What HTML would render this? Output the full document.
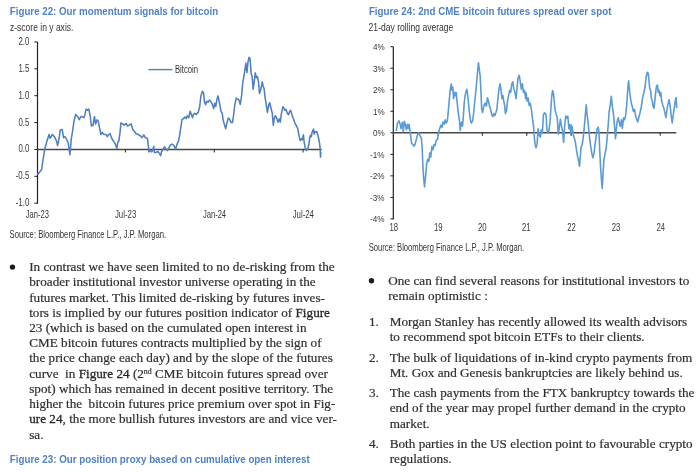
<!DOCTYPE html>
<html><head><meta charset="utf-8"><title>Bitcoin momentum and futures spread</title>
<style>
html,body{margin:0;padding:0;background:#fff;}
body{width:700px;height:472px;overflow:hidden;}
svg{display:block;filter:blur(0.4px);}
.fg{stroke-width:0.28px;fill:#262626;stroke:#262626;}
</style></head><body>
<svg width="700" height="472" viewBox="0 0 700 472" font-family="Liberation Sans, Arial, sans-serif" fill="#333">
<text x="9.8" y="14.7" font-size="10.2" font-weight="700" textLength="208.3" lengthAdjust="spacingAndGlyphs" fill="#4f81c4">Figure 22: Our momentum signals for bitcoin</text>
<text x="10" y="30.7" font-size="10.0" textLength="63.4" lengthAdjust="spacingAndGlyphs">z-score in y axis.</text>
<text x="368.9" y="14.8" font-size="10.2" font-weight="700" textLength="242.5" lengthAdjust="spacingAndGlyphs" fill="#4f81c4">Figure 24: 2nd CME bitcoin futures spread over spot</text>
<text x="368.6" y="30.9" font-size="10.2" textLength="84.8" lengthAdjust="spacingAndGlyphs">21-day rolling average</text>
<line x1="37.5" y1="41.94999999999999" x2="37.5" y2="203.7" stroke="#222" stroke-width="1.2"/>
<line x1="34.3" y1="41.95" x2="37.5" y2="41.95" stroke="#222" stroke-width="1"/>
<line x1="34.3" y1="68.82" x2="37.5" y2="68.82" stroke="#222" stroke-width="1"/>
<line x1="34.3" y1="95.70" x2="37.5" y2="95.70" stroke="#222" stroke-width="1"/>
<line x1="34.3" y1="122.57" x2="37.5" y2="122.57" stroke="#222" stroke-width="1"/>
<line x1="34.3" y1="149.45" x2="37.5" y2="149.45" stroke="#222" stroke-width="1"/>
<line x1="34.3" y1="176.32" x2="37.5" y2="176.32" stroke="#222" stroke-width="1"/>
<line x1="34.3" y1="203.20" x2="37.5" y2="203.20" stroke="#222" stroke-width="1"/>
<line x1="37.5" y1="149.54999999999998" x2="321.8" y2="149.54999999999998" stroke="#484848" stroke-width="1.6"/>
<line x1="125.4" y1="149.45" x2="125.4" y2="152.45" stroke="#222" stroke-width="1"/>
<line x1="214.3" y1="149.45" x2="214.3" y2="152.45" stroke="#222" stroke-width="1"/>
<line x1="303.1" y1="149.45" x2="303.1" y2="152.45" stroke="#222" stroke-width="1"/>
<text x="29.3" y="44.95" font-size="10.5" text-anchor="end" textLength="10.9" lengthAdjust="spacingAndGlyphs" fill="#383838">2.0</text>
<text x="29.3" y="71.82" font-size="10.5" text-anchor="end" textLength="10.9" lengthAdjust="spacingAndGlyphs" fill="#383838">1.5</text>
<text x="29.3" y="98.7" font-size="10.5" text-anchor="end" textLength="10.9" lengthAdjust="spacingAndGlyphs" fill="#383838">1.0</text>
<text x="29.3" y="125.57" font-size="10.5" text-anchor="end" textLength="10.9" lengthAdjust="spacingAndGlyphs" fill="#383838">0.5</text>
<text x="29.3" y="152.45" font-size="10.5" text-anchor="end" textLength="10.9" lengthAdjust="spacingAndGlyphs" fill="#383838">0.0</text>
<text x="29.3" y="179.32" font-size="10.5" text-anchor="end" textLength="13.6" lengthAdjust="spacingAndGlyphs" fill="#383838">-0.5</text>
<text x="29.3" y="206.2" font-size="10.5" text-anchor="end" textLength="13.6" lengthAdjust="spacingAndGlyphs" fill="#383838">-1.0</text>
<text x="37.4" y="218.2" font-size="10.8" text-anchor="middle" textLength="23.2" lengthAdjust="spacingAndGlyphs" fill="#383838">Jan-23</text>
<text x="125.6" y="218.2" font-size="10.8" text-anchor="middle" textLength="21.3" lengthAdjust="spacingAndGlyphs" fill="#383838">Jul-23</text>
<text x="214.5" y="218.2" font-size="10.8" text-anchor="middle" textLength="23.2" lengthAdjust="spacingAndGlyphs" fill="#383838">Jan-24</text>
<text x="303.3" y="218.2" font-size="10.8" text-anchor="middle" textLength="21.3" lengthAdjust="spacingAndGlyphs" fill="#383838">Jul-24</text>
<polyline points="37.4,174.8 41.7,169.5 42.7,162.0 44.8,149.0 47.0,140.9 49.0,134.5 50.1,138.3 52.3,134.5 54.4,136.6 56.5,140.9 57.6,145.5 59.0,138.8 60.3,129.9 62.2,129.6 63.5,137.7 65.0,136.6 66.5,139.2 68.2,143.0 69.9,154.7 71.3,138.8 72.4,132.4 73.9,121.8 75.6,114.4 77.7,116.5 79.2,119.7 80.9,116.5 84.0,117.6 85.0,114.4 86.1,109.1 87.5,110.1 88.8,109.1 90.3,116.5 91.4,126.0 93.1,125.0 94.5,116.5 95.6,123.9 97.1,119.7 98.1,120.7 99.4,127.1 100.9,134.5 102.4,132.4 104.1,134.5 106.2,134.5 107.3,136.6 108.7,134.5 110.0,133.5 111.5,137.7 112.6,139.8 114.0,141.9 115.3,144.0 116.8,148.3 117.9,141.9 118.9,140.9 120.0,132.4 121.0,122.9 122.5,123.9 124.2,125.0 126.3,123.5 127.4,126.0 129.5,125.0 131.2,123.9 132.7,129.2 135.9,133.5 138.0,134.5 140.1,135.6 142.1,137.7 143.8,134.9 145.3,137.7 147.4,138.3 148.5,147.2 148.9,151.9 150.6,150.4 151.7,151.9 152.7,150.4 153.8,146.2 154.4,152.5 155.9,152.5 158.0,151.5 159.5,153.6 160.6,155.7 161.6,151.5 162.9,149.4 164.4,146.8 165.9,148.9 167.6,150.4 169.3,147.2 170.7,144.7 172.2,144.1 173.9,145.5 175.6,148.9 177.1,144.1 178.6,140.9 179.6,135.6 180.7,128.2 182.0,119.7 183.5,118.6 184.9,117.1 186.2,118.6 187.1,115.9 188.8,117.6 190.2,111.2 191.5,115.0 192.6,117.6 193.4,114.4 194.7,113.3 196.2,114.4 196.7,113.9 198.2,112.4 199.7,106.5 200.9,95.9 202.4,91.2 203.5,92.7 204.5,102.2 205.6,104.8 206.7,101.2 208.1,102.2 209.4,100.1 210.9,101.8 212.4,104.4 213.7,108.6 214.7,103.3 215.8,106.5 216.8,100.1 217.9,95.9 218.7,99.1 220.0,105.4 221.1,111.8 222.1,112.8 223.2,120.3 224.7,125.6 225.7,128.7 226.8,123.4 228.3,118.1 229.6,119.2 231.0,122.4 232.5,122.4 233.6,115.0 234.9,104.4 236.3,98.0 237.8,99.1 239.1,100.1 240.2,104.4 241.6,95.9 242.7,83.2 243.8,76.8 244.8,70.4 245.9,63.0 246.9,72.6 248.0,62.0 249.1,57.3 250.1,59.0 251.1,73.3 252.1,76.5 253.2,89.2 254.2,81.8 255.3,72.9 256.4,77.6 257.4,76.5 258.5,81.8 259.5,93.5 260.6,90.3 261.7,85.0 262.3,81.8 263.1,86.0 264.0,88.2 265.3,98.8 266.5,106.2 267.4,112.5 268.7,105.1 269.7,102.6 270.8,107.2 272.3,113.6 273.3,125.3 274.4,117.8 275.4,115.7 276.9,118.9 278.0,122.1 279.3,118.9 280.3,122.1 281.4,113.6 282.9,106.8 283.9,108.3 285.0,110.4 286.0,109.4 287.5,113.6 288.6,114.7 289.6,111.5 290.7,110.4 292.0,114.7 293.5,118.9 294.9,123.1 296.2,125.3 297.7,128.4 299.2,136.9 300.2,140.5 301.5,138.6 302.3,139.9 303.4,134.8 304.2,142.4 305.3,148.2 306.3,150.5 307.6,148.8 308.4,146.9 309.1,143.1 309.7,138.0 310.4,135.4 311.4,136.7 311.9,132.9 312.9,130.4 313.5,129.1 314.2,134.2 314.8,131.6 315.4,132.3 316.7,131.6 317.7,134.8 318.6,138.0 319.5,143.1 320.2,149.4 320.5,157.1 320.9,152.0" fill="none" stroke="#4f7fc0" stroke-width="1.55" stroke-linejoin="round"/>
<line x1="148.4" y1="69.6" x2="172.5" y2="69.6" stroke="#4f7fc0" stroke-width="1.4"/>
<text x="175" y="73" font-size="10.5" textLength="23" lengthAdjust="spacingAndGlyphs">Bitcoin</text>
<text x="9.6" y="238.0" font-size="10.4" textLength="156.5" lengthAdjust="spacingAndGlyphs">Source: Bloomberg Finance L.P., J.P. Morgan.</text>
<line x1="393.3" y1="46.70000000000002" x2="393.3" y2="219.4" stroke="#222" stroke-width="1.2"/>
<line x1="390.4" y1="218.90" x2="393.3" y2="218.90" stroke="#222" stroke-width="1"/>
<line x1="390.4" y1="197.38" x2="393.3" y2="197.38" stroke="#222" stroke-width="1"/>
<line x1="390.4" y1="175.85" x2="393.3" y2="175.85" stroke="#222" stroke-width="1"/>
<line x1="390.4" y1="154.33" x2="393.3" y2="154.33" stroke="#222" stroke-width="1"/>
<line x1="390.4" y1="132.80" x2="393.3" y2="132.80" stroke="#222" stroke-width="1"/>
<line x1="390.4" y1="111.28" x2="393.3" y2="111.28" stroke="#222" stroke-width="1"/>
<line x1="390.4" y1="89.75" x2="393.3" y2="89.75" stroke="#222" stroke-width="1"/>
<line x1="390.4" y1="68.23" x2="393.3" y2="68.23" stroke="#222" stroke-width="1"/>
<line x1="390.4" y1="46.70" x2="393.3" y2="46.70" stroke="#222" stroke-width="1"/>
<line x1="393.3" y1="132.8" x2="676.3" y2="132.8" stroke="#484848" stroke-width="1.6"/>
<line x1="438.3" y1="132.8" x2="438.3" y2="135.8" stroke="#222" stroke-width="1"/>
<line x1="482.3" y1="132.8" x2="482.3" y2="135.8" stroke="#222" stroke-width="1"/>
<line x1="526.8" y1="132.8" x2="526.8" y2="135.8" stroke="#222" stroke-width="1"/>
<line x1="571.3" y1="132.8" x2="571.3" y2="135.8" stroke="#222" stroke-width="1"/>
<line x1="615.8" y1="132.8" x2="615.8" y2="135.8" stroke="#222" stroke-width="1"/>
<line x1="660.2" y1="132.8" x2="660.2" y2="135.8" stroke="#222" stroke-width="1"/>
<text x="384.6" y="222.4" font-size="9.9" text-anchor="end" textLength="14.5" lengthAdjust="spacingAndGlyphs" fill="#383838">-4%</text>
<text x="384.6" y="200.88" font-size="9.9" text-anchor="end" textLength="14.5" lengthAdjust="spacingAndGlyphs" fill="#383838">-3%</text>
<text x="384.6" y="179.35" font-size="9.9" text-anchor="end" textLength="14.5" lengthAdjust="spacingAndGlyphs" fill="#383838">-2%</text>
<text x="384.6" y="157.83" font-size="9.9" text-anchor="end" textLength="14.5" lengthAdjust="spacingAndGlyphs" fill="#383838">-1%</text>
<text x="384.6" y="136.3" font-size="9.9" text-anchor="end" textLength="11.7" lengthAdjust="spacingAndGlyphs" fill="#383838">0%</text>
<text x="384.6" y="114.78" font-size="9.9" text-anchor="end" textLength="11.7" lengthAdjust="spacingAndGlyphs" fill="#383838">1%</text>
<text x="384.6" y="93.25" font-size="9.9" text-anchor="end" textLength="11.7" lengthAdjust="spacingAndGlyphs" fill="#383838">2%</text>
<text x="384.6" y="71.73" font-size="9.9" text-anchor="end" textLength="11.7" lengthAdjust="spacingAndGlyphs" fill="#383838">3%</text>
<text x="384.6" y="50.2" font-size="9.9" text-anchor="end" textLength="11.7" lengthAdjust="spacingAndGlyphs" fill="#383838">4%</text>
<text x="393.8" y="230.6" font-size="10.3" text-anchor="middle" textLength="8.6" lengthAdjust="spacingAndGlyphs" fill="#383838">18</text>
<text x="438.3" y="230.6" font-size="10.3" text-anchor="middle" textLength="8.6" lengthAdjust="spacingAndGlyphs" fill="#383838">19</text>
<text x="482.2" y="230.6" font-size="10.3" text-anchor="middle" textLength="8.6" lengthAdjust="spacingAndGlyphs" fill="#383838">20</text>
<text x="526.3" y="230.6" font-size="10.3" text-anchor="middle" textLength="8.6" lengthAdjust="spacingAndGlyphs" fill="#383838">21</text>
<text x="571.5" y="230.6" font-size="10.3" text-anchor="middle" textLength="8.6" lengthAdjust="spacingAndGlyphs" fill="#383838">22</text>
<text x="616.1" y="230.6" font-size="10.3" text-anchor="middle" textLength="8.6" lengthAdjust="spacingAndGlyphs" fill="#383838">23</text>
<text x="660.7" y="230.6" font-size="10.3" text-anchor="middle" textLength="8.6" lengthAdjust="spacingAndGlyphs" fill="#383838">24</text>
<polyline points="396.2,131.0 397.4,123.3 398.9,120.8 400.2,124.4 401.0,128.6 402.3,122.2 403.3,131.8 404.4,121.2 405.3,124.4 406.3,129.7 407.4,124.4 408.2,128.6 409.1,124.4 410.1,131.8 410.8,137.1 411.6,143.4 412.9,144.5 413.9,146.2 415.0,144.5 416.1,140.3 417.1,136.0 418.6,132.8 419.7,135.0 421.4,138.1 422.2,148.7 422.8,163.6 423.5,176.3 424.5,186.9 425.6,176.3 426.7,163.6 427.7,159.3 428.8,161.4 429.8,153.0 430.7,157.2 431.9,146.6 433.0,149.8 434.1,144.5 435.1,145.5 436.2,140.3 437.7,139.2 438.2,133.7 439.7,128.4 440.9,125.2 442.0,127.3 443.0,122.0 444.1,124.2 445.2,119.9 446.2,123.1 447.3,121.0 448.1,113.6 449.2,100.8 450.3,89.2 451.3,83.9 452.0,90.3 452.8,87.1 453.6,98.7 454.5,92.4 455.3,95.6 456.2,92.4 457.0,100.8 457.9,109.3 458.7,115.7 459.6,122.0 460.2,130.5 460.8,125.2 461.7,122.0 462.5,126.3 463.4,115.7 464.2,103.0 465.1,95.6 465.9,92.4 466.8,89.2 467.6,94.5 468.5,103.0 469.3,111.4 470.4,119.9 471.4,123.1 472.5,121.0 473.6,113.6 474.6,103.0 475.7,92.4 476.7,81.8 477.6,71.2 478.4,62.7 479.3,69.1 480.1,75.4 481.0,92.4 481.7,109.3 482.5,112.5 483.8,106.1 485.1,103.0 486.4,106.1 487.4,97.7 488.5,100.8 489.5,106.1 490.6,109.3 491.7,114.6 492.7,116.7 493.8,113.6 494.8,115.7 495.9,112.5 496.9,109.3 498.0,97.7 499.1,88.1 500.1,83.9 501.2,91.3 502.0,98.7 502.9,95.6 503.7,100.8 504.6,105.1 505.4,113.6 506.5,110.4 507.5,100.8 508.6,95.6 509.7,90.3 510.7,92.4 511.8,83.9 512.8,81.8 513.9,89.2 515.0,92.4 516.0,98.7 517.1,87.1 518.1,77.5 519.2,75.4 520.3,81.8 521.3,89.2 522.4,83.9 523.4,92.4 524.5,90.3 525.6,98.7 526.1,92.7 527.1,101.2 528.2,98.0 529.2,105.4 530.3,103.3 531.4,109.7 532.4,118.1 533.5,125.6 534.1,135.1 535.0,143.6 536.0,147.8 537.1,143.6 538.1,128.7 539.2,135.1 540.3,137.2 541.3,129.8 542.4,133.0 543.4,115.0 544.5,112.8 545.6,113.9 546.2,116.0 546.8,128.7 547.9,133.0 548.9,130.8 550.0,122.4 550.8,109.7 551.7,96.9 552.5,90.6 553.4,92.7 554.2,101.2 555.1,109.7 556.1,113.9 557.2,117.1 558.3,134.0 559.3,127.7 560.4,119.2 561.4,125.6 562.5,130.8 563.6,142.5 564.6,126.6 565.7,116.0 566.7,118.1 567.8,116.0 568.9,128.7 569.9,124.5 571.0,135.1 571.1,125.0 572.1,127.1 573.2,134.5 574.2,137.7 575.3,141.9 576.4,149.3 577.4,155.7 578.5,159.9 579.5,166.3 580.2,157.8 581.0,147.2 582.1,145.1 583.1,138.7 584.2,128.1 585.3,115.4 586.3,104.8 586.9,113.3 587.8,119.7 588.6,128.1 589.7,138.7 590.8,147.2 591.8,153.6 592.9,157.8 593.9,153.6 595.0,145.1 596.1,136.6 597.1,129.2 598.2,127.1 599.0,132.4 599.7,149.3 600.5,166.3 601.4,179.0 602.2,188.5 603.1,172.6 603.9,159.9 605.0,153.6 606.0,149.3 607.1,138.7 608.1,126.0 609.2,111.2 610.3,104.8 611.3,96.4 612.4,106.9 613.4,113.3 614.5,126.0 615.5,138.7 616.1,130.5 617.1,122.0 618.2,117.8 619.2,122.0 620.3,126.3 621.4,119.9 622.4,128.4 623.5,117.8 624.5,119.9 625.6,115.7 626.7,105.1 627.7,90.3 628.6,80.7 629.4,89.2 630.3,96.6 631.3,103.0 632.4,107.2 633.4,111.4 634.5,109.3 635.6,115.7 636.6,118.9 637.7,122.0 638.7,117.8 639.8,113.6 640.8,109.3 641.9,103.0 643.0,95.6 644.0,92.4 645.1,86.0 646.1,77.5 647.2,72.2 648.3,73.3 648.9,79.7 649.7,88.1 650.6,90.3 651.4,98.7 652.3,100.8 653.1,106.1 654.0,108.3 654.8,100.8 655.7,92.4 656.5,86.0 657.4,85.0 658.2,92.4 659.1,90.3 659.9,95.6 660.8,92.4 661.6,100.8 662.7,105.0 663.8,108.1 664.8,112.4 665.9,117.7 666.9,110.3 668.0,103.9 669.1,99.7 670.1,106.0 671.2,115.6 672.2,123.0 673.3,114.5 674.4,107.1 675.4,99.7 676.1,97.5 676.7,108.1" fill="none" stroke="#5b9bd5" stroke-width="1.6" stroke-linejoin="round"/>
<text x="368.7" y="251.2" font-size="10.2" textLength="155.5" lengthAdjust="spacingAndGlyphs">Source: Bloomberg Finance L.P., J.P. Morgan.</text>
<circle cx="12.5" cy="267.1" r="2.7" fill="#1c1c24"/>
<g transform="translate(29.2,271.1) scale(0.9818,1)"><text x="0" y="0" font-size="13.45" font-family="Liberation Serif" fill="#2e2e2e" stroke="#2e2e2e" stroke-width="0.2" xml:space="preserve">In contrast we have seen limited to no de-risking from the</text></g>
<g transform="translate(29.2,286.33) scale(0.9818,1)"><text x="0" y="0" font-size="13.45" font-family="Liberation Serif" fill="#2e2e2e" stroke="#2e2e2e" stroke-width="0.2" xml:space="preserve">broader institutional investor universe operating in the</text></g>
<g transform="translate(29.2,301.56) scale(0.9818,1)"><text x="0" y="0" font-size="13.45" font-family="Liberation Serif" fill="#2e2e2e" stroke="#2e2e2e" stroke-width="0.2" xml:space="preserve">futures market. This limited de-risking by futures inves-</text></g>
<g transform="translate(29.2,316.79) scale(0.9818,1)"><text x="0" y="0" font-size="13.45" font-family="Liberation Serif" fill="#2e2e2e" stroke="#2e2e2e" stroke-width="0.2" xml:space="preserve">tors is implied by our futures position indicator of <tspan class="fg">Figure</tspan></text></g>
<g transform="translate(29.2,332.02) scale(0.9818,1)"><text x="0" y="0" font-size="13.45" font-family="Liberation Serif" fill="#2e2e2e" stroke="#2e2e2e" stroke-width="0.2" xml:space="preserve">23 (which is based on the cumulated open interest in</text></g>
<g transform="translate(29.2,347.25) scale(0.9818,1)"><text x="0" y="0" font-size="13.45" font-family="Liberation Serif" fill="#2e2e2e" stroke="#2e2e2e" stroke-width="0.2" xml:space="preserve">CME bitcoin futures contracts multiplied by the sign of</text></g>
<g transform="translate(29.2,362.48) scale(0.9818,1)"><text x="0" y="0" font-size="13.45" font-family="Liberation Serif" fill="#2e2e2e" stroke="#2e2e2e" stroke-width="0.2" xml:space="preserve">the price change each day) and by the slope of the futures</text></g>
<g transform="translate(29.2,377.71) scale(0.9818,1)"><text x="0" y="0" font-size="13.45" font-family="Liberation Serif" fill="#2e2e2e" stroke="#2e2e2e" stroke-width="0.2" xml:space="preserve">curve  in <tspan class="fg">Figure 24</tspan> (2<tspan font-size="8" dy="-3.6">nd</tspan><tspan dy="3.6"> CME bitcoin futures spread over</tspan></text></g>
<g transform="translate(29.2,392.94) scale(0.9818,1)"><text x="0" y="0" font-size="13.45" font-family="Liberation Serif" fill="#2e2e2e" stroke="#2e2e2e" stroke-width="0.2" xml:space="preserve">spot) which has remained in decent positive territory. The</text></g>
<g transform="translate(29.2,408.17) scale(0.9764,1)"><text x="0" y="0" font-size="13.45" font-family="Liberation Serif" fill="#2e2e2e" stroke="#2e2e2e" stroke-width="0.2" xml:space="preserve">higher the  bitcoin futures price premium over spot in Fig-</text></g>
<g transform="translate(29.2,423.4) scale(0.9818,1)"><text x="0" y="0" font-size="13.45" font-family="Liberation Serif" fill="#2e2e2e" stroke="#2e2e2e" stroke-width="0.2" xml:space="preserve"><tspan class="fg">ure 24</tspan>, the more bullish futures investors are and vice ver-</text></g>
<g transform="translate(29.2,438.63) scale(0.9818,1)"><text x="0" y="0" font-size="13.45" font-family="Liberation Serif" fill="#2e2e2e" stroke="#2e2e2e" stroke-width="0.2" xml:space="preserve">sa.</text></g>
<text x="9.8" y="463.2" font-size="10.2" font-weight="700" textLength="299.9" lengthAdjust="spacingAndGlyphs" fill="#4f81c4">Figure 23: Our position proxy based on cumulative open interest</text>
<circle cx="371.5" cy="280.7" r="2.7" fill="#1c1c24"/>
<g transform="translate(388.2,284.7) scale(0.9818,1)"><text x="0" y="0" font-size="13.45" font-family="Liberation Serif" fill="#2e2e2e" stroke="#2e2e2e" stroke-width="0.2" xml:space="preserve">One can find several reasons for institutional investors to</text></g>
<g transform="translate(388.2,300.0) scale(0.9818,1)"><text x="0" y="0" font-size="13.45" font-family="Liberation Serif" fill="#2e2e2e" stroke="#2e2e2e" stroke-width="0.2" xml:space="preserve">remain optimistic :</text></g>
<g transform="translate(368.9,325.5) scale(0.9818,1)"><text x="0" y="0" font-size="13.45" font-family="Liberation Serif" fill="#2e2e2e" stroke="#2e2e2e" stroke-width="0.2" xml:space="preserve">1.</text></g>
<g transform="translate(389.7,325.5) scale(0.9818,1)"><text x="0" y="0" font-size="13.45" font-family="Liberation Serif" fill="#2e2e2e" stroke="#2e2e2e" stroke-width="0.2" xml:space="preserve">Morgan Stanley has recently allowed its wealth advisors</text></g>
<g transform="translate(389.7,340.8) scale(0.9818,1)"><text x="0" y="0" font-size="13.45" font-family="Liberation Serif" fill="#2e2e2e" stroke="#2e2e2e" stroke-width="0.2" xml:space="preserve">to recommend spot bitcoin ETFs to their clients.</text></g>
<g transform="translate(368.9,361.7) scale(0.9818,1)"><text x="0" y="0" font-size="13.45" font-family="Liberation Serif" fill="#2e2e2e" stroke="#2e2e2e" stroke-width="0.2" xml:space="preserve">2.</text></g>
<g transform="translate(389.7,361.7) scale(0.9818,1)"><text x="0" y="0" font-size="13.45" font-family="Liberation Serif" fill="#2e2e2e" stroke="#2e2e2e" stroke-width="0.2" xml:space="preserve">The bulk of liquidations of in-kind crypto payments from</text></g>
<g transform="translate(389.7,376.9) scale(0.9818,1)"><text x="0" y="0" font-size="13.45" font-family="Liberation Serif" fill="#2e2e2e" stroke="#2e2e2e" stroke-width="0.2" xml:space="preserve">Mt. Gox and Genesis bankruptcies are likely behind us.</text></g>
<g transform="translate(368.9,397.2) scale(0.9818,1)"><text x="0" y="0" font-size="13.45" font-family="Liberation Serif" fill="#2e2e2e" stroke="#2e2e2e" stroke-width="0.2" xml:space="preserve">3.</text></g>
<g transform="translate(389.7,397.2) scale(0.9818,1)"><text x="0" y="0" font-size="13.45" font-family="Liberation Serif" fill="#2e2e2e" stroke="#2e2e2e" stroke-width="0.2" xml:space="preserve">The cash payments from the FTX bankruptcy towards the</text></g>
<g transform="translate(389.7,412.3) scale(0.9818,1)"><text x="0" y="0" font-size="13.45" font-family="Liberation Serif" fill="#2e2e2e" stroke="#2e2e2e" stroke-width="0.2" xml:space="preserve">end of the year may propel further demand in the crypto</text></g>
<g transform="translate(389.7,427.5) scale(0.9818,1)"><text x="0" y="0" font-size="13.45" font-family="Liberation Serif" fill="#2e2e2e" stroke="#2e2e2e" stroke-width="0.2" xml:space="preserve">market.</text></g>
<g transform="translate(368.9,448.3) scale(0.9818,1)"><text x="0" y="0" font-size="13.45" font-family="Liberation Serif" fill="#2e2e2e" stroke="#2e2e2e" stroke-width="0.2" xml:space="preserve">4.</text></g>
<g transform="translate(389.7,448.3) scale(0.9818,1)"><text x="0" y="0" font-size="13.45" font-family="Liberation Serif" fill="#2e2e2e" stroke="#2e2e2e" stroke-width="0.2" xml:space="preserve">Both parties in the US election point to favourable crypto</text></g>
<g transform="translate(389.7,463.2) scale(0.9818,1)"><text x="0" y="0" font-size="13.45" font-family="Liberation Serif" fill="#2e2e2e" stroke="#2e2e2e" stroke-width="0.2" xml:space="preserve">regulations.</text></g>
</svg>
</body></html>
